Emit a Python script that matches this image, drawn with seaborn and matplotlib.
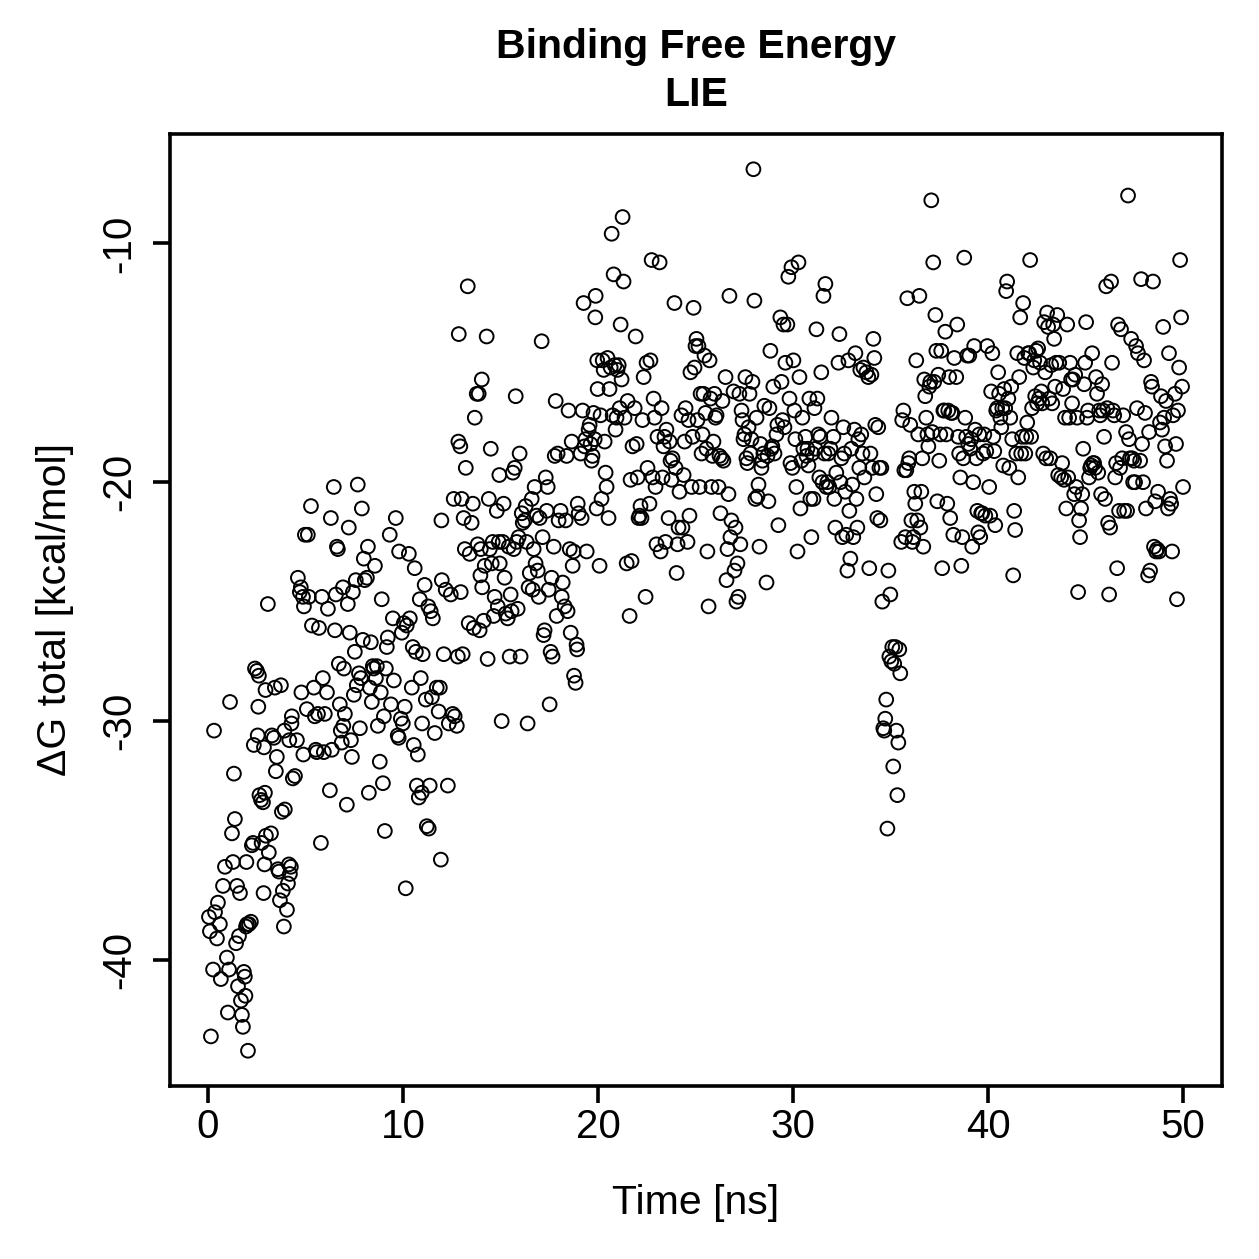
import numpy as np
import pandas as pd
import matplotlib
matplotlib.use("Agg")
import matplotlib.pyplot as plt
import seaborn as sns

# ---- data (time in ns, dG in kcal/mol) ----
time_ns = [
 0.05,0.15,0.10,0.26,0.31,0.36,0.46,0.51,0.61,0.66,0.77,0.87,0.97,
 1.02,1.08,1.13,1.23,1.28,1.33,1.38,1.49,1.44,1.54,1.59,1.64,1.69,1.74,1.79,1.84,1.89,1.92,1.95,1.97,2.00,
 2.05,2.10,2.20,2.25,2.31,2.35,2.41,2.51,2.55,2.58,2.61,2.64,2.72,2.75,2.82,2.85,2.87,2.90,2.92,2.95,2.97,
 3.07,3.12,3.23,3.28,3.38,3.43,3.48,3.53,3.59,3.64,3.69,3.74,3.79,3.84,3.89,3.92,3.94,
 4.05,4.10,4.15,4.17,4.20,4.25,4.28,4.30,4.35,4.46,4.56,4.61,4.71,4.76,4.79,4.87,4.89,4.92,4.97,
 5.07,5.12,5.17,5.28,5.33,5.43,5.48,5.53,5.58,5.64,5.69,5.79,5.84,5.89,5.94,5.99,
 6.10,6.15,6.25,6.30,6.35,6.45,6.51,6.56,6.61,6.66,6.71,6.76,6.81,6.86,6.92,6.94,6.97,7.02,
 7.12,7.17,7.22,7.27,7.33,7.38,7.43,7.48,7.53,7.58,7.63,7.68,7.74,7.79,7.84,7.89,7.94,7.99,
 8.04,8.15,8.20,8.25,8.30,8.35,8.40,8.45,8.50,8.56,8.61,8.66,8.71,8.81,8.86,8.91,8.97,9.02,
 9.07,9.12,9.17,9.22,9.32,9.38,9.48,9.53,9.63,9.73,9.78,9.80,9.89,9.94,9.99,
 10.04,10.09,10.14,10.19,10.30,10.35,10.45,10.50,10.55,10.60,10.66,10.71,10.76,10.81,10.86,10.91,10.96,10.98,11.01,
 11.11,11.17,11.22,11.32,11.30,11.37,11.42,11.48,11.53,11.63,11.73,11.83,11.89,11.94,11.99,11.97,
 12.09,12.19,12.30,12.35,12.45,12.55,12.60,12.65,12.76,12.81,12.86,12.84,12.96,12.94,13.01,
 13.06,13.11,13.17,13.22,13.32,13.37,13.42,13.52,13.58,13.63,13.68,13.78,13.83,13.88,13.93,13.99,13.97,
 14.04,14.06,14.14,14.19,14.29,14.34,14.40,14.45,14.50,14.55,14.60,14.65,14.70,14.81,14.86,14.91,14.96,14.94,
 15.06,15.11,15.16,15.21,15.27,15.37,15.42,15.47,15.52,15.57,15.63,15.68,15.73,15.78,15.83,15.88,15.93,15.98,
 16.03,16.09,16.14,16.24,16.29,16.34,16.39,16.44,16.50,16.60,16.65,16.70,16.75,16.80,16.85,16.91,16.96,17.01,
 17.11,17.16,17.21,17.26,17.32,17.37,17.42,17.47,17.52,17.57,17.62,17.67,17.73,17.78,17.83,17.88,17.93,17.98,
 18.08,18.14,18.19,18.29,18.34,18.39,18.44,18.49,18.55,18.60,18.65,18.70,18.75,18.77,18.85,18.90,18.96,18.93,19.01,
 19.11,19.16,19.21,19.26,19.31,19.36,19.42,19.52,19.57,19.62,19.67,19.72,19.77,19.83,19.88,19.86,19.93,19.98,19.96,
 20.08,20.13,20.18,20.24,20.29,20.34,20.39,20.44,20.49,20.54,20.59,20.65,20.70,20.75,20.80,20.85,20.90,20.95,21.00,
 21.06,21.11,21.16,21.21,21.26,21.31,21.36,21.47,21.52,21.62,21.67,21.72,21.77,21.88,21.93,21.98,
 22.03,22.08,22.13,22.18,22.23,22.28,22.34,22.44,22.49,22.54,22.64,22.69,22.75,22.80,22.85,22.90,22.95,23.00,
 23.05,23.16,23.21,23.26,23.31,23.36,23.41,23.46,23.51,23.62,23.67,23.72,23.77,23.82,23.92,23.98,
 24.03,24.08,24.13,24.18,24.28,24.33,24.39,24.44,24.49,24.59,24.64,24.69,24.74,24.80,24.85,24.90,24.95,25.00,
 25.05,25.10,25.15,25.21,25.26,25.31,25.36,25.41,25.46,25.51,25.56,25.61,25.67,25.72,25.77,25.82,25.87,25.92,25.97,
 26.02,26.08,26.18,26.23,26.28,26.33,26.38,26.43,26.54,26.59,26.64,26.69,26.74,26.79,26.84,26.95,27.00,
 27.05,27.10,27.15,27.20,27.25,27.30,27.36,27.41,27.46,27.51,27.56,27.61,27.66,27.72,27.77,27.82,27.87,27.92,27.97,
 28.02,28.07,28.13,28.18,28.23,28.28,28.33,28.38,28.43,28.48,28.53,28.64,28.69,28.74,28.79,28.84,28.89,28.94,28.99,
 29.05,29.15,29.20,29.25,29.35,29.41,29.46,29.51,29.56,29.61,29.71,29.76,29.82,29.87,29.92,29.97,
 30.02,30.07,30.12,30.17,30.23,30.28,30.33,30.38,30.43,30.48,30.53,30.64,30.69,30.74,30.79,30.84,30.89,30.94,30.99,
 31.05,31.10,31.15,31.20,31.25,31.30,31.35,31.40,31.45,31.51,31.56,31.61,31.66,31.71,31.76,31.81,31.86,31.92,31.97,
 32.07,32.12,32.17,32.22,32.33,32.38,32.43,32.48,32.53,32.58,32.63,32.68,32.73,32.79,32.84,32.89,32.94,32.99,
 33.04,33.09,33.15,33.20,33.25,33.30,33.35,33.40,33.45,33.50,33.56,33.61,33.66,33.76,33.86,33.91,33.97,
 34.02,34.07,34.12,34.17,34.22,34.27,34.32,34.37,34.43,34.48,34.53,34.58,34.63,34.68,34.73,34.78,34.84,34.89,34.94,34.99,
 35.04,35.09,35.14,35.19,35.25,35.30,35.35,35.40,35.45,35.50,35.55,35.60,35.66,35.71,35.76,35.81,35.86,35.91,35.96,
 36.01,36.07,36.12,36.17,36.22,36.27,36.32,36.37,36.42,36.48,36.53,36.58,36.63,36.68,36.73,36.78,36.83,36.89,36.94,36.99,
 37.04,37.09,37.14,37.19,37.24,37.30,37.35,37.40,37.45,37.50,37.55,37.60,37.65,37.71,37.76,37.81,37.86,37.91,37.96,
 38.01,38.06,38.11,38.17,38.22,38.27,38.37,38.42,38.47,38.52,38.58,38.63,38.68,38.73,38.78,38.83,38.88,38.93,38.99,
 39.04,39.09,39.14,39.19,39.24,39.29,39.34,39.40,39.45,39.50,39.55,39.60,39.65,39.70,39.75,39.81,39.86,39.91,39.96,
 40.06,40.11,40.16,40.22,40.27,40.32,40.37,40.42,40.47,40.52,40.57,40.63,40.68,40.73,40.78,40.83,40.88,40.93,40.98,
 41.04,41.09,41.14,41.19,41.24,41.29,41.34,41.39,41.45,41.50,41.55,41.60,41.65,41.70,41.75,41.80,41.86,41.91,41.96,42.01,
 42.06,42.11,42.16,42.21,42.26,42.32,42.37,42.42,42.47,42.52,42.57,42.62,42.67,42.73,42.78,42.83,42.88,42.93,42.98,
 43.03,43.08,43.14,43.19,43.24,43.29,43.34,43.39,43.44,43.49,43.55,43.60,43.65,43.75,43.80,43.85,43.90,43.95,44.01,
 44.06,44.11,44.16,44.21,44.26,44.31,44.36,44.42,44.47,44.52,44.57,44.62,44.67,44.72,44.77,44.83,44.88,44.93,44.98,
 45.03,45.08,45.13,45.18,45.24,45.29,45.34,45.39,45.44,45.49,45.54,45.59,45.65,45.70,45.75,45.80,45.85,45.90,45.95,46.00,
 46.06,46.11,46.16,46.21,46.26,46.31,46.36,46.41,46.47,46.52,46.57,46.62,46.67,46.72,46.77,46.82,46.88,46.93,46.98,
 47.08,47.13,47.18,47.23,47.28,47.34,47.39,47.44,47.49,47.54,47.59,47.64,47.69,47.80,47.85,47.90,47.95,48.00,
 48.05,48.10,48.21,48.26,48.31,48.36,48.41,48.46,48.51,48.57,48.62,48.67,48.72,48.77,48.82,48.87,48.92,48.98,
 49.03,49.08,49.13,49.18,49.23,49.28,49.33,49.39,49.44,49.49,49.59,49.64,49.69,49.74,49.80,49.85,49.90,49.95,50.00,
]

dg_total = [
 -38.2,-43.2,-38.8,-40.4,-30.4,-38.0,-39.1,-37.6,-38.5,-40.8,-36.9,-36.1,-39.9,
 -42.2,-40.4,-29.2,-34.7,-35.9,-32.2,-34.1,-36.9,-39.3,-41.1,-39.0,-37.2,-41.7,-42.3,-42.8,-40.5,-40.7,-41.5,-38.6,-35.9,-38.5,
 -43.8,-38.5,-38.4,-35.2,-35.1,-31.0,-27.8,-27.9,-30.6,-29.4,-28.1,-33.1,-33.3,-35.1,-33.4,-37.2,-31.1,-36.0,-33.0,-28.7,-34.8,
 -25.1,-35.5,-34.7,-30.6,-30.7,-28.6,-32.1,-31.5,-36.2,-36.3,-37.5,-28.5,-33.8,-37.1,-38.6,-30.4,-33.7,
 -37.9,-36.8,-36.0,-30.8,-36.4,-36.1,-30.1,-29.8,-32.4,-32.3,-30.8,-24.0,-24.6,-24.4,-28.8,-24.8,-31.4,-25.2,-22.2,
 -29.5,-22.2,-24.8,-21.0,-26.0,-28.6,-29.8,-31.2,-31.3,-29.7,-26.1,-35.1,-24.8,-28.2,-31.3,-29.7,
 -28.8,-25.3,-32.9,-21.5,-31.2,-20.2,-26.2,-24.7,-22.7,-22.8,-27.6,-29.3,-30.4,-30.9,-24.4,-30.2,-27.8,-29.7,
 -33.5,-25.1,-21.9,-26.3,-30.8,-31.5,-24.6,-28.9,-27.1,-24.1,-28.5,-20.1,-28.0,-30.3,-28.2,-21.1,-26.6,-23.2,
 -24.1,-24.0,-22.7,-33.0,-28.6,-26.7,-29.2,-27.7,-27.8,-23.5,-28.2,-27.7,-30.2,-31.7,-28.8,-24.9,-32.6,-29.8,
 -34.6,-27.8,-26.9,-26.5,-22.2,-29.3,-25.7,-28.3,-21.5,-30.6,-30.7,-22.9,-29.9,-26.3,-30.1,
 -25.9,-29.4,-37.0,-26.0,-23.0,-25.7,-28.6,-26.9,-31.0,-23.6,-27.1,-32.7,-31.4,-33.2,-24.9,-28.2,-33.0,-30.1,-27.2,
 -24.3,-29.1,-34.4,-34.5,-25.2,-32.7,-25.4,-29.0,-25.7,-30.5,-28.6,-29.6,-28.6,-35.8,-24.1,-21.6,
 -27.2,-24.5,-32.7,-30.1,-24.7,-29.7,-20.7,-29.8,-30.2,-27.3,-13.8,-18.3,-24.6,-18.5,-20.7,
 -27.2,-21.5,-22.8,-19.4,-11.8,-25.9,-23.0,-21.7,-20.9,-26.1,-17.3,-16.3,-22.6,-16.3,-26.2,-22.8,-23.9,
 -15.7,-24.4,-25.8,-23.5,-13.9,-27.4,-20.7,-22.8,-18.6,-23.4,-22.5,-25.6,-24.8,-21.2,-25.2,-22.5,-23.4,-19.7,
 -30.0,-22.5,-20.9,-24.0,-25.5,-25.7,-22.7,-27.3,-24.7,-25.4,-19.6,-22.8,-19.4,-16.4,-22.5,-25.3,-22.3,-18.8,
 -27.3,-21.3,-21.7,-21.6,-21.0,-22.5,-30.1,-24.4,-23.8,-20.7,-24.5,-22.8,-20.2,-23.4,-21.4,-23.7,-24.8,-21.5,
 -14.1,-22.3,-26.4,-26.2,-19.8,-21.2,-20.2,-24.5,-29.3,-27.1,-24.0,-27.3,-22.7,-18.9,-16.6,-25.6,-18.8,-21.6,
 -21.2,-24.8,-24.2,-25.2,-21.6,-18.9,-25.4,-17.0,-22.8,-26.3,-18.3,-23.5,-22.9,-28.1,-28.4,-26.8,-20.9,-27.0,-21.3,
 -18.8,-21.5,-17.0,-12.5,-18.5,-18.2,-22.9,-17.8,-17.6,-18.4,-19.1,-18.9,-17.1,-18.2,-12.2,-13.1,-21.1,-16.1,-14.9,
 -23.5,-17.2,-20.7,-14.9,-15.3,-18.3,-19.6,-20.2,-14.8,-21.5,-16.1,-15.2,-9.6,-17.2,-11.3,-15.1,-17.8,-17.3,-15.3,
 -15.1,-16.9,-13.4,-15.7,-8.9,-11.6,-17.3,-23.4,-16.6,-25.6,-19.9,-23.3,-18.5,-16.9,-13.9,-18.4,
 -19.8,-21.5,-21.4,-21.0,-21.5,-17.4,-15.6,-24.8,-15.0,-19.4,-20.9,-14.9,-10.7,-19.8,-16.5,-17.3,-20.2,-22.6,
 -18.1,-10.8,-22.9,-16.9,-19.8,-18.5,-18.1,-22.5,-17.8,-21.5,-18.3,-19.1,-19.9,-19.0,-12.5,-19.4,
 -23.8,-22.6,-21.9,-20.4,-17.2,-21.9,-19.7,-18.3,-16.9,-22.5,-17.4,-21.4,-15.4,-20.2,-18.1,-12.7,-15.2,-14.3,
 -14.0,-17.4,-14.3,-20.2,-16.3,-18.8,-18.0,-16.3,-14.7,-17.1,-18.6,-22.9,-25.2,-14.9,-16.5,-20.2,-18.9,-18.3,-16.3,
 -17.3,-17.2,-20.2,-18.9,-21.3,-19.0,-16.6,-19.1,-15.6,-24.1,-22.8,-20.5,-12.2,-22.3,-21.6,-16.2,-23.7,
 -21.9,-25.0,-23.4,-24.8,-16.3,-22.6,-17.0,-17.4,-18.2,-18.0,-15.6,-19.0,-19.2,-17.7,-16.3,-18.8,-18.2,-15.8,-6.9,
 -12.4,-20.7,-17.3,-20.6,-20.1,-22.7,-18.4,-19.4,-19.1,-18.8,-16.8,-24.2,-18.9,-20.8,-16.9,-14.5,-18.6,-18.5,-16.0,
 -18.8,-18.0,-17.6,-21.8,-13.1,-15.8,-17.4,-13.4,-17.7,-15.0,-13.4,-11.4,-16.5,-19.2,-11.0,-19.4,
 -14.9,-17.0,-18.2,-20.2,-22.9,-10.8,-15.6,-21.1,-19.1,-17.3,-18.6,-18.1,-18.9,-18.6,-19.3,-16.5,-20.7,-22.3,-18.8,
 -20.7,-16.9,-18.6,-13.6,-16.5,-18.0,-19.8,-18.1,-15.4,-20.0,-12.2,-18.8,-11.7,-20.2,-20.0,-18.8,-20.2,-18.6,-17.3,
 -18.1,-20.7,-21.9,-19.6,-15.0,-13.8,-20.0,-19.0,-22.3,-17.7,-18.8,-20.4,-22.2,-23.7,-14.9,-21.2,-23.2,-18.6,
 -20.1,-22.3,-17.8,-14.6,-20.7,-21.9,-18.2,-19.4,-15.3,-18.0,-18.8,-15.2,-19.8,-15.4,-15.6,-23.6,-18.8,
 -15.5,-19.4,-14.0,-14.8,-17.6,-20.5,-21.5,-17.7,-19.4,-21.6,-19.4,-25.0,-30.3,-30.4,-29.9,-29.1,-34.5,-23.7,-27.3,-24.7,
 -27.5,-26.9,-31.9,-27.6,-26.9,-30.4,-33.1,-30.9,-27.0,-28.0,-22.5,-17.4,-17.0,-19.5,-22.3,-19.5,-12.3,-19.2,-19.0,
 -17.6,-21.6,-22.5,-22.3,-20.4,-20.9,-14.9,-21.6,-18.0,-12.2,-21.9,-20.4,-19.0,-22.7,-15.7,-16.4,-17.3,-18.0,-18.5,-16.0,
 -15.8,-8.2,-17.9,-10.8,-15.8,-13.0,-14.5,-20.8,-15.5,-19.1,-18.0,-14.5,-23.6,-17.0,-17.0,-13.7,-18.0,-20.9,-17.0,
 -15.6,-21.5,-17.1,-17.1,-22.2,-14.8,-15.6,-13.4,-18.1,-18.8,-19.8,-23.5,-22.3,-19.0,-10.6,-17.3,-18.1,-14.7,-18.4,
 -14.7,-18.6,-18.2,-22.7,-20.0,-14.3,-17.8,-19.0,-21.2,-22.1,-18.0,-22.3,-21.3,-21.3,-18.8,-18.0,-21.4,-18.7,-14.3,
 -20.2,-21.4,-16.2,-14.6,-18.1,-18.7,-21.8,-17.0,-16.9,-15.4,-16.3,-17.3,-17.7,-16.9,-19.3,-16.1,-16.9,-12.0,-11.6,
 -16.5,-19.4,-17.3,-16.0,-18.2,-23.9,-21.2,-22.0,-18.8,-14.6,-19.8,-15.6,-13.1,-18.8,-18.1,-12.5,-14.8,-18.8,-18.1,-17.5,
 -14.6,-14.6,-10.7,-18.1,-16.9,-15.2,-14.9,-16.4,-14.5,-16.7,-14.4,-16.5,-15.0,-16.2,-16.7,-18.8,-13.3,-15.4,-19.0,
 -12.9,-13.5,-16.5,-19.0,-15.1,-16.7,-13.4,-14.0,-16.0,-15.0,-13.0,-19.7,-15.0,-19.8,-19.2,-16.1,-19.9,-17.3,-21.1,
 -13.4,-19.8,-17.3,-15.0,-15.7,-16.7,-15.7,-20.5,-15.5,-20.2,-17.3,-24.6,-21.6,-22.3,-21.1,-20.5,-18.6,-15.9,-15.0,
 -13.3,-17.3,-17.0,-19.8,-19.4,-19.3,-14.6,-19.2,-19.2,-19.4,-15.6,-16.3,-19.6,-17.0,-17.2,-20.5,-15.9,-17.0,-18.1,-20.7,
 -11.8,-16.9,-21.7,-24.7,-21.9,-11.6,-15.0,-17.0,-17.2,-19.8,-19.2,-23.6,-13.4,-21.2,-19.4,-13.6,-19.0,-17.2,-21.2,
 -17.9,-21.2,-8.0,-18.2,-19.0,-14.0,-19.0,-20.0,-19.1,-20.0,-14.3,-16.9,-14.6,-19.1,-11.5,-18.4,-20.0,-14.9,
 -17.1,-21.1,-23.9,-17.9,-23.7,-15.8,-16.0,-11.6,-22.7,-20.8,-22.9,-22.8,-20.4,-22.9,-17.5,-16.4,-17.8,-13.5,
 -17.3,-18.5,-16.6,-19.1,-21.1,-14.6,-20.7,-20.9,-22.9,-17.2,-16.3,-18.4,-24.9,-17.0,-15.2,-10.7,-13.1,-16.0,-20.2,
]

x_ticks = [0, 10, 20, 30, 40, 50]
y_ticks = [-10, -20, -30, -40]
title_lines = ["Binding Free Energy", "LIE"]
x_label = "Time [ns]"
y_label = "\u0394G total [kcal/mol]"

n = min(len(time_ns), len(dg_total))
df = pd.DataFrame({"time": time_ns[:n], "dg": dg_total[:n]})

sns.set_style("ticks")
plt.rcParams["font.family"] = ["Liberation Sans", "DejaVu Sans"]
plt.rcParams["text.color"] = "black"
plt.rcParams["axes.labelcolor"] = "black"
plt.rcParams["xtick.color"] = "black"
plt.rcParams["ytick.color"] = "black"
plt.rcParams["axes.edgecolor"] = "black"

W = H = 1259
fig = plt.figure(figsize=(W / 100, H / 100), dpi=100)
ax = fig.add_axes([170 / W, 1 - 1086 / H, (1222 - 170) / W, (1086 - 134) / H])

sns.scatterplot(data=df, x="time", y="dg", ax=ax, marker="o", s=98,
                facecolors="none", edgecolor="black", linewidth=1.4)
for coll in ax.collections:
    coll.set_facecolor("none")
    coll.set_edgecolor("black")

# R-style 4% padding
xr = (min(df.time), max(df.time))
yr = (min(df.dg), max(df.dg))
ax.set_xlim(xr[0] - 0.04 * (xr[1] - xr[0]), xr[1] + 0.04 * (xr[1] - xr[0]))
ax.set_ylim(yr[0] - 0.04 * (yr[1] - yr[0]), yr[1] + 0.04 * (yr[1] - yr[0]))

ax.set_xticks(x_ticks)
ax.set_yticks(y_ticks)
ax.set_xticklabels([str(v) for v in x_ticks], fontsize=29, color="black")
ax.set_yticklabels([str(v) for v in y_ticks], fontsize=29, rotation=90, va="center", color="black")
ax.tick_params(axis="both", direction="out", length=12, width=2.6, color="black")
ax.tick_params(axis="x", pad=4)
ax.tick_params(axis="y", pad=11)
for sp in ax.spines.values():
    sp.set_visible(True)
    sp.set_linewidth(2.6)
    sp.set_color("black")

ax.set_xlabel("")
ax.set_ylabel("")
fig.text(696 / W, 1 - 1203 / H, x_label, ha="center", va="center", fontsize=29.5, color="black")
fig.text(55 / W, 1 - 610 / H, y_label, ha="center", va="center", fontsize=29.5, rotation=90, color="black")
fig.text(696 / W, 1 - 47 / H, title_lines[0], ha="center", va="center", fontsize=29.5,
         fontweight="bold", color="black")
fig.text(696 / W, 1 - 95 / H, title_lines[1], ha="center", va="center", fontsize=29.5,
         fontweight="bold", color="black")

fig.savefig("out.png", dpi=100, facecolor="white")
